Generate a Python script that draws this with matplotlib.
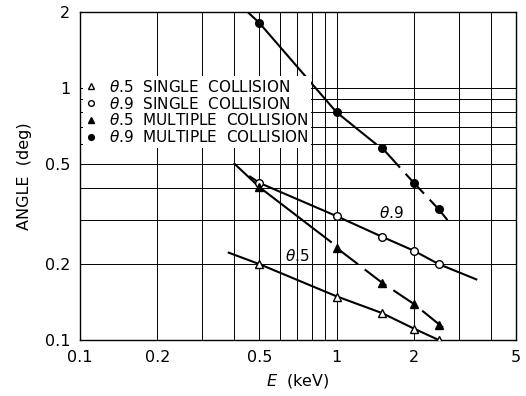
"""
Angle vs energy, single / multiple collision (log-log)
"""

import numpy as np
import matplotlib
matplotlib.use("Agg")
import matplotlib.pyplot as plt
from matplotlib.ticker import FixedLocator, NullLocator

plt.rcParams['font.family'] = ['DejaVu Sans']
plt.rcParams['mathtext.fontset'] = 'dejavusans'

# measured points (keV, deg)
energy = [0.5, 1.0, 1.5, 2.0, 2.5]
t5_single = [0.20, 0.148, 0.128, 0.111, 0.100]
t9_single = [0.42, 0.31, 0.257, 0.226, 0.200]
t5_multi = [0.404, 0.232, 0.169, 0.139, 0.115]
t9_multi = [1.81, 0.80, 0.58, 0.42, 0.33]

# fitted curves drawn through the points
t5s_cx = [0.38, 0.5, 1.0, 1.5, 2.0, 2.5]
t5s_cy = [0.222, 0.20, 0.149, 0.128, 0.111, 0.100]
t9s_cx = [0.46, 0.5, 1.0, 1.5, 2.0, 2.5, 3.5]
t9s_cy = [0.445, 0.42, 0.31, 0.257, 0.226, 0.200, 0.174]
t5m_solid_x = [0.40, 0.5, 0.95]
t5m_solid_y = [0.50, 0.404, 0.245]
t5m_dash_x = [1.0, 1.5, 2.0, 2.6]
t5m_dash_y = [0.232, 0.169, 0.139, 0.112]
t9m_solid_x = [0.45, 0.5, 1.0, 1.42]
t9m_solid_y = [2.0, 1.81, 0.80, 0.60]
t9m_dash_x = [1.5, 2.0, 2.5, 2.8]
t9m_dash_y = [0.58, 0.42, 0.33, 0.286]

x_ticks = [0.1, 0.2, 0.5, 1, 2, 5]
x_tick_labels = ['0.1', '0.2', '0.5', '1', '2', '5']
y_ticks = [0.1, 0.2, 0.5, 1, 2]
y_tick_labels = ['0.1', '0.2', '0.5', '1', '2']
x_grid = [0.2, 0.3, 0.4, 0.5, 0.6, 0.7, 0.8, 0.9, 1, 2, 3, 4]
y_grid = [0.2, 0.3, 0.4, 0.5, 0.6, 0.7, 0.8, 0.9, 1]

fig = plt.figure(figsize=(5.26, 3.96), dpi=100)
ax = fig.add_axes([0.152, 0.1414, 0.829, 0.8283])
ax.set_xscale('log')
ax.set_yscale('log')
ax.set_xlim(0.1, 5)
ax.set_ylim(0.1, 2)

for gx in x_grid:
    ax.axvline(gx, color='black', lw=0.7, zorder=0)
for gy in y_grid:
    ax.axhline(gy, color='black', lw=0.7, zorder=0)

lw = 1.5
dash = (13, 4)
ax.plot(t5s_cx, t5s_cy, color='black', lw=lw, zorder=2)
ax.plot(t9s_cx, t9s_cy, color='black', lw=lw, zorder=2)
ax.plot(t5m_solid_x, t5m_solid_y, color='black', lw=lw, zorder=2)
ax.plot(t5m_dash_x, t5m_dash_y, color='black', lw=lw, zorder=2, dashes=dash)
ax.plot(t9m_solid_x, t9m_solid_y, color='black', lw=lw, zorder=2)
ax.plot(t9m_dash_x, t9m_dash_y, color='black', lw=lw, zorder=2, dashes=dash)

ms = 5.5
h1, = ax.plot(energy, t5_single, ls='none', marker='^', ms=ms,
              mfc='white', mec='black', mew=1.0, zorder=3)
h2, = ax.plot(energy, t9_single, ls='none', marker='o', ms=ms,
              mfc='white', mec='black', mew=1.0, zorder=3)
h3, = ax.plot(energy, t5_multi, ls='none', marker='^', ms=ms,
              mfc='black', mec='black', zorder=3)
h4, = ax.plot(energy, t9_multi, ls='none', marker='o', ms=ms,
              mfc='black', mec='black', zorder=3)

leg = ax.legend([h1, h2, h3, h4],
                [r'$\theta$.5  SINGLE  COLLISION',
                 r'$\theta$.9  SINGLE  COLLISION',
                 r'$\theta$.5  MULTIPLE  COLLISION',
                 r'$\theta$.9  MULTIPLE  COLLISION'],
                loc='upper left', bbox_to_anchor=(0.0, 0.815),
                fontsize=11, handlelength=0.7, handletextpad=0.8,
                labelspacing=0.05, borderpad=0.2, borderaxespad=0.2,
                frameon=True, fancybox=False, edgecolor='none',
                facecolor='white', framealpha=1.0, markerscale=0.75)
leg.set_zorder(4)

ax.text(1.64, 0.318, r'$\theta$.9', fontsize=11, ha='center', va='center')
ax.text(0.70, 0.216, r'$\theta$.5', fontsize=11, ha='center', va='center')

ax.xaxis.set_major_locator(FixedLocator(x_ticks))
ax.xaxis.set_minor_locator(NullLocator())
ax.set_xticklabels(x_tick_labels)
ax.yaxis.set_major_locator(FixedLocator(y_ticks))
ax.yaxis.set_minor_locator(NullLocator())
ax.set_yticklabels(y_tick_labels)
ax.tick_params(length=0, labelsize=11.5, pad=7)

for sp in ax.spines.values():
    sp.set_linewidth(1.0)

ax.set_xlabel(r'$E$  (keV)', fontsize=11.5, labelpad=5)
ax.set_ylabel('ANGLE  (deg)', fontsize=11.5, labelpad=9)

fig.savefig('out.png', dpi=100)
